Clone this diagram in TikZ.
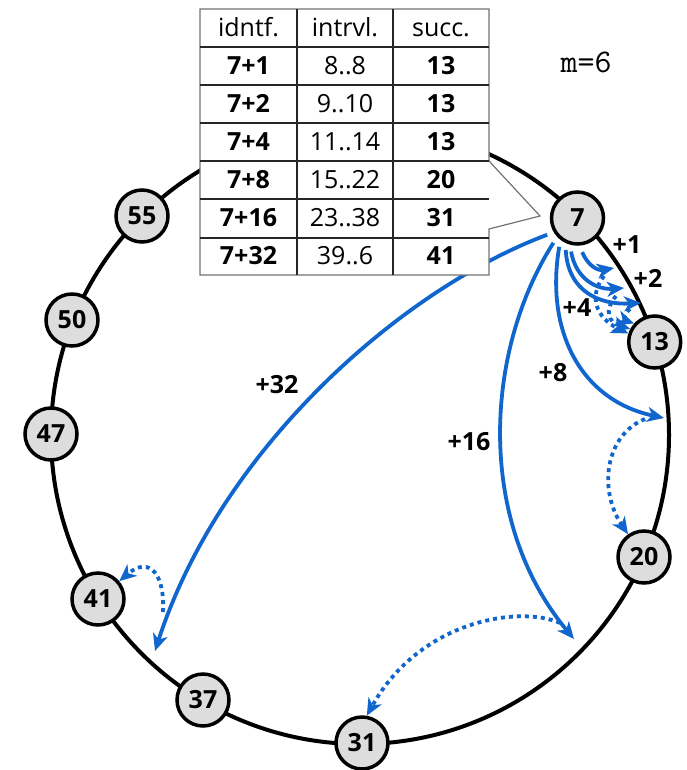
\documentclass[tikz,border=0pt]{standalone}
\usepackage{fontspec}
\setmainfont{Open Sans}
\usetikzlibrary{arrows.meta}
\definecolor{chordblue}{RGB}{16,102,204}
\definecolor{nodegray}{RGB}{221,221,221}
\begin{document}
\begin{tikzpicture}[x=1pt,y=-1pt,
  ring/.style={draw=black, line width=4pt},
  peer/.style={circle, draw=black, line width=3.5pt, fill=nodegray, minimum size=52pt, inner sep=0pt, font=\fontsize{25}{25}\selectfont\bfseries},
  finger/.style={draw=chordblue, line width=3.8pt, -{Stealth[length=17pt,width=15pt,inset=5pt]}},
  succarrow/.style={finger, dash pattern=on 4pt off 4pt},
  flabel/.style={font=\fontsize{25}{25}\selectfont\bfseries, inner sep=0pt},
  cell/.style={font=\fontsize{25}{25}\selectfont, inner sep=0pt, anchor=base},
  bcell/.style={cell, font=\fontsize{25}{25}\selectfont\bfseries},
  tline/.style={draw=black!85, line width=1.1pt},
  tborder/.style={draw=black!55, line width=1.2pt, fill=white}
]
\useasboundingbox (0,0) rectangle (687,770);
% ring
\draw[ring] (360,435) circle[radius=309];
% peers
\node[peer] (n7)  at (577.5,218) {7};
\node[peer] (n13) at (654.7,342) {13};
\node[peer] (n20) at (644,557) {20};
\node[peer] (n31) at (362,743) {31};
\node[peer] (n37) at (203,700) {37};
\node[peer] (n41) at (98,599) {41};
\node[peer] (n47) at (51,434) {47};
\node[peer] (n50) at (72,320) {50};
\node[peer] (n55) at (142,216) {55};
% finger targets
\coordinate (t1) at (614,268);
\coordinate (t2) at (624,288);
\coordinate (t4) at (641,303);
\coordinate (t8) at (664,418);
\coordinate (t16) at (574,639);
\coordinate (t32) at (155,651);
% fingers
\draw[finger, shorten <=7pt] (n7.274) .. controls (588,266) and (598,271) .. (t1);
\draw[finger, shorten <=7pt] (n7.254) .. controls (576,280) and (598,290) .. (t2);
\draw[finger, shorten <=7pt] (n7.244) .. controls (568,292) and (600,305) .. (t4);
\draw[finger, shorten <=7pt] (n7.232) .. controls (545,330) and (580,400) .. (t8);
\draw[finger, shorten <=7pt] (n7.223) .. controls (485,350) and (475,520) .. (t16);
\draw[finger, shorten <=7pt] (n7.211) .. controls (400,290) and (220,450) .. (t32);
% successor hops
\coordinate (s1) at (604,276);
\coordinate (s2) at (616,296);
\coordinate (s4) at (630,309);
\coordinate (s8) at (645,419);
\coordinate (s16) at (560,623);
\coordinate (s32) at (163,612);
\draw[succarrow] (s1) .. controls (588,296) and (596,318) .. (n13.162);
\draw[succarrow] (s2) .. controls (604,310) and (608,322) .. (n13.152);
\draw[succarrow] (s4) .. controls (624,314) and (624,320) .. (n13.138);
\draw[succarrow] (s8) .. controls (605,435) and (598,490) .. (n20.125);
\draw[succarrow] (s16) .. controls (520,605) and (420,620) .. (n31.80);
\draw[succarrow] (s32) .. controls (165,575) and (150,555) .. (n41.40);
% table
\filldraw[tborder] (200,9) -- (489,9) -- (489,161) -- (540,216) -- (489,229) -- (489,275) -- (200,275) -- cycle;
\draw[tline] (297,9) -- (297,275) (393,9) -- (393,275);
\foreach \yy in {47,85,123,161,199,238} \draw[tline] (200,\yy) -- (489,\yy);
\node[cell] (h1) at (248.5,36.5) {idntf.};
\node[cell] (h2) at (345,36.5) {intrvl.};
\node[cell] (h3) at (441,36.5) {succ.};
\node[bcell] (a1) at (248.5,75) {7+1};
\node[cell]  (b1) at (345,75) {8..8};
\node[bcell] (c1) at (441,75) {13};
\node[bcell] (a2) at (248.5,113) {7+2};
\node[cell]  (b2) at (345,113) {9..10};
\node[bcell] (c2) at (441,113) {13};
\node[bcell] (a3) at (248.5,151) {7+4};
\node[cell]  (b3) at (345,151) {11..14};
\node[bcell] (c3) at (441,151) {13};
\node[bcell] (a4) at (248.5,189) {7+8};
\node[cell]  (b4) at (345,189) {15..22};
\node[bcell] (c4) at (441,189) {20};
\node[bcell] (a5) at (248.5,226) {7+16};
\node[cell]  (b5) at (345,226) {23..38};
\node[bcell] (c5) at (441,226) {31};
\node[bcell] (a6) at (248.5,264) {7+32};
\node[cell]  (b6) at (345,264) {39..6};
\node[bcell] (c6) at (441,264) {41};
% m
\node[font=\ttfamily\fontsize{33}{33}\selectfont, inner sep=0pt, anchor=base] (m) at (586,73) {m=6};
% finger labels
\node[flabel] (l1) at (627,245) {+1};
\node[flabel] (l2) at (648,278) {+2};
\node[flabel] (l4) at (577,308) {+4};
\node[flabel] (l8) at (553,373) {+8};
\node[flabel] (l16) at (469,442) {+16};
\node[flabel] (l32) at (277,385) {+32};
\end{tikzpicture}
\end{document}
